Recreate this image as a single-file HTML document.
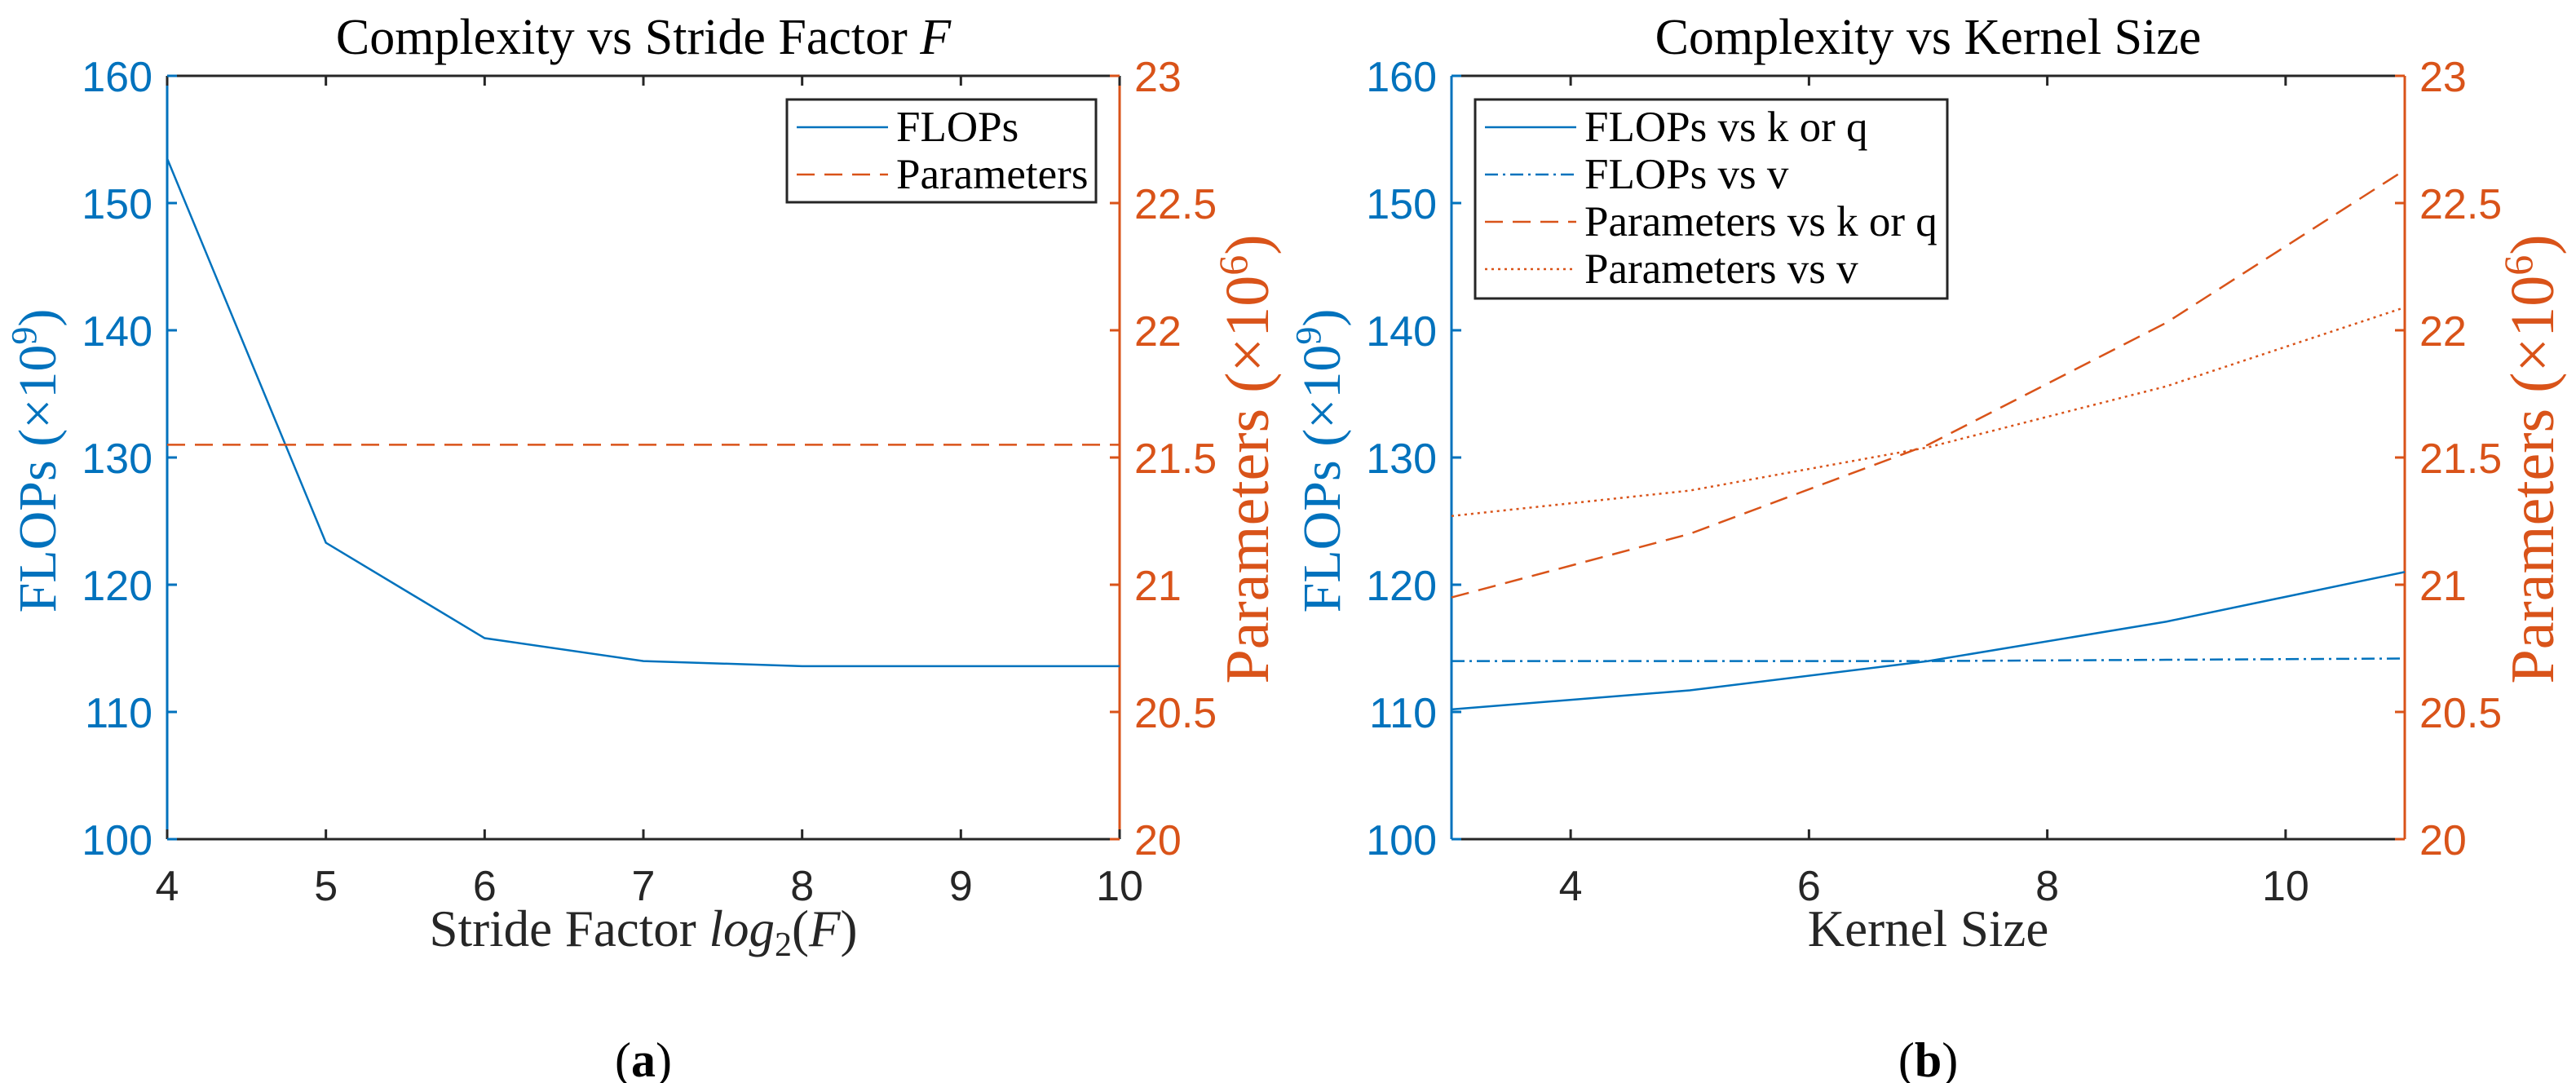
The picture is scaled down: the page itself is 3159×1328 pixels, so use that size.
<!DOCTYPE html>
<html><head><meta charset="utf-8"><style>
html,body{margin:0;padding:0;background:#fff;width:3159px;height:1328px;overflow:hidden}
svg text{font-family:"Liberation Serif",serif}
.tk{font-family:"Liberation Sans",sans-serif;font-size:52px}
</style></head><body>
<svg id="s" width="3159" height="1328" viewBox="0 0 3159 1328" xmlns="http://www.w3.org/2000/svg"></svg>
<script>
const aX=[4,5,6,7,8,9,10];
const aFlops=[153.5,123.3,115.8,114.0,113.6,113.6,113.6];
const aParams=[21.55,21.55,21.55,21.55,21.55,21.55,21.55];
const aXTicks=[4,5,6,7,8,9,10];
const bX=[3,5,7,9,11];
const bFlopsK=[110.2,111.7,114.0,117.1,121.0];
const bFlopsV=[114.0,114.0,114.0,114.1,114.2];
const bParamsK=[20.95,21.2,21.55,22.03,22.63];
const bParamsV=[21.27,21.37,21.54,21.78,22.09];
const bXTicks=[4,6,8,10];
const yTicksL=[100,110,120,130,140,150,160];
const yTicksR=[20,20.5,21,21.5,22,22.5,23];

const NS='http://www.w3.org/2000/svg';
const svg=document.getElementById('s');
const BLUE='#0072BD',OR='#D95319',AX='#262626';
function el(t,a,p){const e=document.createElementNS(NS,t);for(const k in a)e.setAttribute(k,a[k]);(p||svg).appendChild(e);return e;}

function panel(id,x0,x1,xmin,xmax,xt,title,xlabel,letter,series,legend){
  const y0=93,y1=1029;
  const g=el('g',{});
  
  
  const sx=v=>x0+(v-xmin)/(xmax-xmin)*(x1-x0);
  const syL=v=>y1-(v-100)/60*(y1-y0);
  const syR=v=>y1-(v-20)/3*(y1-y0);
  const top=el('line',{x1:x0,y1:y0,x2:x1,y2:y0,stroke:AX,'stroke-width':3},g);
  
  const bot=el('line',{x1:x0,y1:y1,x2:x1,y2:y1,stroke:AX,'stroke-width':3},g);
  
  const la=el('line',{x1:x0,y1:y0,x2:x0,y2:y1,stroke:BLUE,'stroke-width':3},g);
  
  const ra=el('line',{x1:x1,y1:y0,x2:x1,y2:y1,stroke:OR,'stroke-width':3},g);
  
  xt.forEach(v=>{const x=sx(v);
    el('line',{x1:x,y1:y1,x2:x,y2:y1-12,stroke:AX,'stroke-width':3},g);
    el('line',{x1:x,y1:y0,x2:x,y2:y0+12,stroke:AX,'stroke-width':3},g);
    const t=el('text',{x:x,y:1104,'text-anchor':'middle',fill:AX,class:'tk'},g);t.textContent=v;
    });
  yTicksL.forEach(v=>{const y=syL(v);
    el('line',{x1:x0,y1:y,x2:x0+12,y2:y,stroke:BLUE,'stroke-width':3},g);
    const t=el('text',{x:x0-18,y:y+19,'text-anchor':'end',fill:BLUE,class:'tk'},g);t.textContent=v;
    });
  yTicksR.forEach(v=>{const y=syR(v);
    el('line',{x1:x1,y1:y,x2:x1-12,y2:y,stroke:OR,'stroke-width':3},g);
    const t=el('text',{x:x1+18,y:y+19,'text-anchor':'start',fill:OR,class:'tk'},g);t.textContent=v;
    });
  series.forEach(s=>{
    const pts=s.xs.map((v,i)=>sx(v)+','+(s.r?syR(s.ys[i]):syL(s.ys[i]))).join(' ');
    const p=el('polyline',{points:pts,fill:'none',stroke:s.c,'stroke-width':2.5,'stroke-dasharray':s.d||'none'},g);
    });
  const cx=(x0+x1)/2;
  const t=el('text',{x:cx,y:66,'text-anchor':'middle','font-size':62,fill:'#000'},g);t.innerHTML=title;
  
  const xl=el('text',{x:cx,y:1160,'text-anchor':'middle','font-size':63,fill:AX},g);xl.innerHTML=xlabel;
  
  const yl=el('text',{x:0,y:0,'text-anchor':'middle','font-size':66,fill:BLUE,transform:`translate(${x0-137},${(y0+y1)/2+4}) rotate(-90)`},g);
  yl.innerHTML='FLOPs (×10<tspan dy="-24" font-size="44">9</tspan><tspan dy="24">)</tspan>';
  
  const yr=el('text',{x:0,y:0,'text-anchor':'middle','font-size':76,fill:OR,transform:`translate(${x1+182},${(y0+y1)/2+2}) rotate(-90)`},g);
  yr.innerHTML='Parameters (×10<tspan dy="-26" font-size="50">6</tspan><tspan dy="26">)</tspan>';
  
  const lt=el('text',{x:cx,y:1320,'text-anchor':'middle','font-size':60,fill:'#000'},g);
  lt.innerHTML='(<tspan font-weight="bold">'+letter+'</tspan>)';
  
  const L=legend;
  const lg=el('g',{},g);
  
  el('rect',{x:L.x,y:122,width:L.w,height:L.h,fill:'#fff',stroke:AX,'stroke-width':3},lg);
  L.items.forEach((it,i)=>{const y=156+i*58;
    const ln=el('line',{x1:L.x+12,y1:y,x2:L.x+124,y2:y,stroke:it.c,'stroke-width':2.5,'stroke-dasharray':it.d||'none'},lg);
    
    const tx=el('text',{x:L.x+134,y:y+17,'font-size':53,fill:'#000'},lg);tx.textContent=it.n;
    });
}
panel('panel-a',205,1373,4,10,aXTicks,'Complexity vs Stride Factor <tspan font-style="italic">F</tspan>',
 'Stride Factor <tspan font-style="italic">log</tspan><tspan font-size="42" dy="12">2</tspan><tspan dy="-12">(</tspan><tspan font-style="italic">F</tspan>)','a',
 [{xs:aX,ys:aFlops,c:BLUE,n:'flops-line'},{xs:aX,ys:aParams,c:OR,r:1,d:'22 12',n:'parameters-line'}],
 {x:965,w:379,h:126,items:[{n:'FLOPs',c:BLUE},{n:'Parameters',c:OR,d:'22 12'}]});
panel('panel-b',1780,2949,3,11,bXTicks,'Complexity vs Kernel Size','Kernel Size','b',
 [{xs:bX,ys:bFlopsK,c:BLUE,n:'flops-vs-k-line'},{xs:bX,ys:bFlopsV,c:BLUE,d:'16 6 3 6',n:'flops-vs-v-line'},
  {xs:bX,ys:bParamsK,c:OR,r:1,d:'22 12',n:'params-vs-k-line'},{xs:bX,ys:bParamsV,c:OR,r:1,d:'3 5',n:'params-vs-v-line'}],
 {x:1809,w:579,h:244,items:[{n:'FLOPs vs k or q',c:BLUE},{n:'FLOPs vs v',c:BLUE,d:'16 6 3 6'},{n:'Parameters vs k or q',c:OR,d:'22 12'},{n:'Parameters vs v',c:OR,d:'3 5'}]});
</script>
</body></html>
